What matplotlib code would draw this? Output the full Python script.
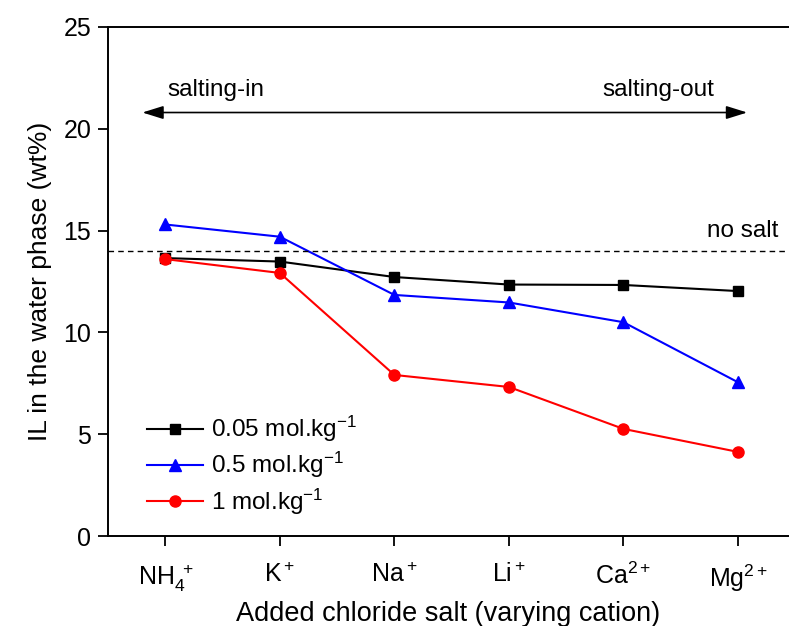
import matplotlib
matplotlib.use("Agg")
import matplotlib.pyplot as plt

plt.rcParams['font.family'] = ['Liberation Sans', 'DejaVu Sans']
plt.rcParams['mathtext.fontset'] = 'custom'
plt.rcParams['mathtext.rm'] = 'Liberation Sans'
plt.rcParams['mathtext.it'] = 'Liberation Sans'

# Data
cations = [r'$\mathregular{NH_4^{\ +}}$', r'$\mathregular{K^+}$', r'$\mathregular{Na^+}$',
           r'$\mathregular{Li^+}$', r'$\mathregular{Ca^{2+}}$', r'$\mathregular{Mg^{2+}}$']
low_conc = [13.65, 13.48, 12.72, 12.35, 12.33, 12.03]
mid_conc = [15.3, 14.7, 11.84, 11.47, 10.5, 7.55]
high_conc = [13.6, 12.92, 7.91, 7.32, 5.26, 4.13]
no_salt = 14.0

fig = plt.figure(figsize=(7.89, 6.26), dpi=100)
ax = fig.add_axes([108 / 789, 90 / 626, 681 / 789, 509 / 626])

x = list(range(len(cations)))
ax.plot(x, low_conc, '-s', color='black', lw=1.5, ms=7.5, label=r'0.05 mol.kg$^{\mathregular{-1}}$')
ax.plot(x, mid_conc, '-^', color='blue', lw=1.5, ms=9, label=r'0.5 mol.kg$^{\mathregular{-1}}$')
ax.plot(x, high_conc, '-o', color='red', lw=1.5, ms=8, label=r'1 mol.kg$^{\mathregular{-1}}$')

ax.axhline(no_salt, color='black', ls='--', lw=1, dashes=(4, 3))
ax.text(5.35, 14.45, 'no salt', ha='right', va='bottom', fontsize=17.5)

# salting-in / salting-out arrow
ax.annotate('', xy=(-0.2, 20.8), xytext=(5.08, 20.8),
            arrowprops=dict(arrowstyle='<|-|>,head_length=0.8,head_width=0.25',
                            color='black', lw=1.2, mutation_scale=16, shrinkA=0, shrinkB=0))
ax.text(0.02, 21.35, 'salting-in', ha='left', va='bottom', fontsize=17.5)
ax.text(4.79, 21.35, 'salting-out', ha='right', va='bottom', fontsize=17.5)

ax.set_xlim(-0.5, 5.445)
ax.set_ylim(0, 25)
ax.set_xticks(x)
ax.set_xticklabels(cations)
ax.set_yticks([0, 5, 10, 15, 20, 25])
ax.tick_params(direction='out', length=7, width=1.3, labelsize=18, pad=5)
ax.tick_params(axis='x', pad=12)
ax.spines['right'].set_visible(False)
for s in ['left', 'bottom', 'top']:
    ax.spines[s].set_linewidth(1.4)

ax.set_xlabel('Added chloride salt (varying cation)', fontsize=19.5, labelpad=5)
ax.set_ylabel('IL in the water phase (wt%)', fontsize=19, labelpad=8)

ax.legend(loc='lower left', bbox_to_anchor=(0.025, -0.005), frameon=False, fontsize=17.5,
          handlelength=2.3, handletextpad=0.35, labelspacing=0.25)

fig.savefig('out.png', dpi=100)
